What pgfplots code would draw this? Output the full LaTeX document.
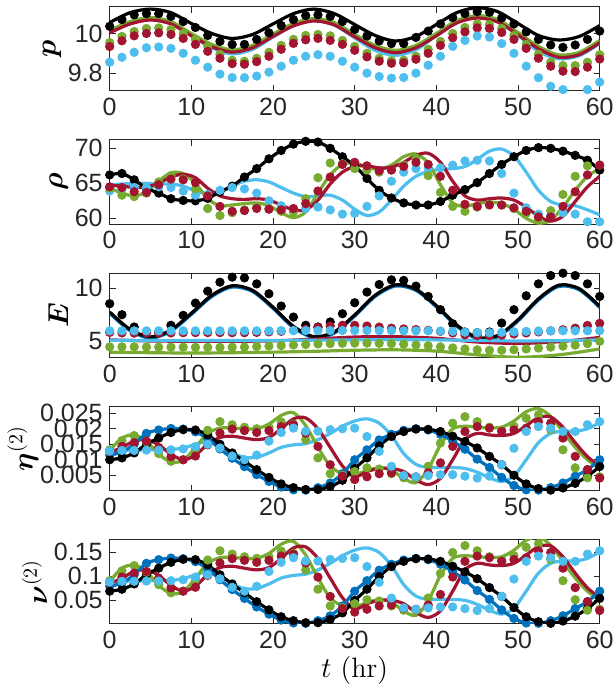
\documentclass[border=0pt]{standalone}
\usepackage{pgfplots}
\pgfplotsset{compat=1.18}
\usepackage{pgfplotstable}
\usepackage{fontspec}
\usepackage{bm}
\newfontfamily\tickfont{Liberation Sans}
\definecolor{mblue}{rgb}{0,0.447,0.741}
\definecolor{mred}{rgb}{0.635,0.078,0.184}
\definecolor{mgreen}{rgb}{0.466,0.674,0.188}
\definecolor{mcyan}{rgb}{0.301,0.745,0.933}
\definecolor{axgray}{rgb}{0.15,0.15,0.15}

% ---------- panel 1 : p ----------
\pgfplotstableread{
t k g r c
0 10.055 10.015 10.003 10.008
2.5 10.105 10.06 10.048 10.052
5 10.123 10.08 10.068 10.072
7.5 10.105 10.06 10.048 10.05
10 10.05 10.0 9.988 9.99
12.5 10.0 9.945 9.933 9.928
15 9.975 9.918 9.906 9.897
17.5 9.995 9.94 9.928 9.92
20 10.048 9.997 9.985 9.982
22.5 10.1 10.05 10.038 10.04
25 10.123 10.075 10.063 10.065
27.5 10.1 10.055 10.043 10.042
30 10.045 9.995 9.983 9.978
32.5 9.99 9.94 9.928 9.915
35 9.962 9.915 9.903 9.89
37.5 9.985 9.94 9.928 9.918
40 10.045 10.0 9.988 9.99
42.5 10.105 10.065 10.053 10.058
45 10.13 10.09 10.078 10.085
47.5 10.11 10.07 10.058 10.062
50 10.05 10.005 9.993 9.99
52.5 9.99 9.935 9.923 9.91
55 9.967 9.892 9.88 9.872
57.5 9.985 9.905 9.893 9.888
60 10.04 9.965 9.953 9.95
}\pline
\pgfplotstableread{
t k g r c
0 10.036 9.954 9.934 9.855
1.5 10.07 9.985 9.963 9.88
3 10.094 10.01 9.988 9.905
4.5 10.10 10.025 10.0 9.928
6 10.10 10.028 10.003 9.932
7.5 10.086 10.02 9.995 9.925
9 10.06 10.0 9.975 9.9
10.5 10.03 9.97 9.945 9.865
12 9.99 9.935 9.91 9.83
13.5 9.96 9.895 9.875 9.795
15 9.945 9.865 9.848 9.778
16.5 9.945 9.86 9.845 9.777
18 9.97 9.875 9.858 9.785
19.5 10.003 9.905 9.885 9.805
21 10.04 9.94 9.92 9.835
22.5 10.07 9.97 9.95 9.865
24 10.09 9.99 9.968 9.885
25.5 10.094 9.995 9.975 9.893
27 10.086 9.988 9.965 9.885
28.5 10.06 9.965 9.945 9.86
30 10.02 9.935 9.915 9.83
31.5 9.987 9.9 9.882 9.8
33 9.962 9.875 9.86 9.783
34.5 9.949 9.863 9.85 9.775
36 9.949 9.865 9.852 9.778
37.5 9.98 9.885 9.87 9.8
39 10.012 9.92 9.9 9.84
40.5 10.048 9.96 9.94 9.885
42 10.08 10.0 9.978 9.935
43.5 10.10 10.03 10.008 9.965
45 10.11 10.048 10.028 9.987
46.5 10.107 10.045 10.025 9.982
48 10.078 10.025 10.005 9.949
49.5 10.048 9.99 9.97 9.9
51 10.008 9.945 9.925 9.835
52.5 9.97 9.895 9.875 9.777
54 9.942 9.855 9.835 9.734
55.5 9.93 9.838 9.81 9.717
57 9.942 9.838 9.808 9.709
58.5 9.97 9.855 9.83 9.717
60 10.012 9.893 9.871 9.755
}\pdots

% ---------- panel 2 : rho ----------
\pgfplotstableread{
t kd gl rl cl gd rd cd
0 66.2 64.3 64.7 64.8 64.3 64.5 63.9
1.5 66.4 63.6 64.6 64.9 63.3 64.4 64.2
3 65.5 63.2 64.4 65.0 63.1 63.8 64.4
4.5 64.3 63.8 64.5 65.0 63.6 63.7 64.4
6 63.6 65.3 65.0 64.9 65.2 64.8 64.5
7.5 62.8 66.5 65.9 64.9 66.1 65.6 64.4
9 62.55 66.4 66.3 64.6 65.6 65.5 63.9
10.5 62.5 65.0 65.8 63.9 64.2 65.1 63.3
12 62.85 62.8 64.3 63.5 61.4 63.2 63.4
13.5 63.8 61.8 63.2 63.8 60.4 61.7 64.0
15 64.6 61.9 62.8 64.6 60.8 61.0 64.4
16.5 65.9 62.1 62.7 65.3 61.2 61.1 64.2
18 67.1 62.2 62.8 65.5 61.6 61.4 63.6
19.5 68.5 61.8 62.6 65.2 61.4 61.3 62.5
21 69.7 60.8 61.9 64.4 61.0 61.2 61.8
22.5 70.6 60.1 61.2 63.6 60.9 61.4 61.3
24 71.0 60.9 61.2 63.1 62.8 62.1 61.4
25.5 70.9 63.6 62.6 63.2 65.8 63.9 61.6
27 70.0 66.2 64.9 63.3 67.9 65.9 61.2
28.5 68.8 67.7 66.6 62.6 67.8 67.7 60.6
30 67.5 67.9 67.4 61.3 67.1 68.0 60.7
31.5 65.7 67.3 67.5 60.4 66.9 67.5 61.7
33 64.0 67.0 67.2 60.9 66.6 66.8 63.2
34.5 62.9 67.6 67.3 62.6 66.9 66.9 65.3
36 62.2 68.8 68.0 64.6 67.6 67.4 66.6
37.5 61.9 69.2 69.0 66.0 68.6 68.0 67.1
39 61.9 67.9 69.3 66.7 66.1 67.7 67.2
40.5 62.4 64.8 68.0 67.0 63.7 66.0 67.2
42 63.3 62.2 65.3 67.1 61.7 64.0 67.6
43.5 64.1 61.7 63.2 67.4 61.0 62.0 68.2
45 65.1 62.1 62.6 68.4 61.6 61.7 68.3
46.5 66.4 62.3 62.8 69.6 62.0 61.9 68.2
48 67.7 62.1 62.9 69.9 61.9 61.9 66.4
49.5 68.8 61.3 62.6 68.9 61.4 61.5 63.6
51 69.7 60.0 61.6 66.6 60.7 61.0 61.5
52.5 70.1 59.3 60.3 64.0 59.9 60.2 60.6
54 70.0 59.7 59.6 62.4 61.1 60.2 60.4
55.5 69.6 61.6 60.3 61.9 63.4 61.7 60.8
57 69.0 64.0 62.4 61.8 66.0 63.8 60.6
58.5 68.3 66.0 64.5 61.2 67.5 66.2 59.5
60 66.9 67.1 66.0 60.5 67.6 67.6 59.5
}\rtab

% ---------- panel 3 : E ----------
\pgfplotstableread{
t k
0 7.76
2.5 6.13
5 5.43
7.5 6.08
10 7.65
12.5 9.33
15 10.22
17.5 9.79
20 8.22
22.5 6.42
25 5.46
27.5 5.9
30 7.49
32.5 9.33
35 10.31
37.5 9.9
40 8.36
42.5 6.54
45 5.38
47.5 5.55
50 7.04
52.5 9.0
55 10.28
57.5 9.95
60 8.3
}\eblack
\pgfplotstableread{
t r c g
0 5.15 5.12 4.0
5 5.05 5.1 3.95
10 5.02 5.1 3.92
15 5.02 5.1 3.95
20 5.06 5.1 4.0
25 5.22 5.12 4.08
30 5.42 5.15 4.18
35 5.45 5.17 4.22
40 5.3 5.15 4.1
45 4.95 5.1 3.75
50 4.82 5.05 3.52
55 4.98 5.08 3.75
60 5.38 5.15 4.3
}\elines
\pgfplotstableread{
t k g r c
0 8.54 4.5 5.85 6.0
1.5 7.51 4.5 5.8 6.0
3 6.36 4.5 5.78 6.0
4.5 5.89 4.48 5.78 6.0
6 5.89 4.47 5.78 6.0
7.5 6.52 4.47 5.8 6.0
9 7.45 4.47 5.82 6.0
10.5 8.6 4.45 5.83 6.0
12 9.72 4.45 5.83 6.0
13.5 10.56 4.45 5.83 6.0
15 11.03 4.46 5.82 6.0
16.5 10.96 4.48 5.82 6.0
18 10.4 4.52 5.85 6.0
19.5 9.47 4.57 5.9 6.0
21 8.32 4.62 5.95 6.02
22.5 7.29 4.67 6.05 6.02
24 6.52 4.72 6.15 6.02
25.5 6.36 4.77 6.3 6.02
27 6.83 4.8 6.45 6.02
28.5 7.6 4.83 6.52 6.03
30 8.63 4.85 6.52 6.03
31.5 9.63 4.85 6.45 6.03
33 10.34 4.83 6.35 6.02
34.5 10.78 4.8 6.25 6.02
36 10.72 4.75 6.18 6.0
37.5 10.19 4.68 6.12 6.0
39 9.22 4.6 6.05 6.0
40.5 7.98 4.5 5.95 5.98
42 6.67 4.4 5.8 5.95
43.5 5.89 4.3 5.62 5.87
45 5.83 4.22 5.55 5.82
46.5 5.89 4.18 5.55 5.82
48 6.73 4.18 5.6 5.85
49.5 7.98 4.22 5.7 5.9
51 9.28 4.3 5.8 5.95
52.5 10.4 4.38 5.9 5.98
54 11.18 4.47 6.0 6.0
55.5 11.4 4.56 6.1 6.0
57 11.18 4.66 6.25 6.0
58.5 10.4 4.8 6.5 6.0
60 9.22 5.02 6.7 6.0
}\edots

% ---------- panel 4 : eta2 ----------
\pgfplotstableread{
t k b g r c gd rd cd
0 0.0100 0.0115 0.0130 0.0122 0.0130 0.0132 0.0127 0.0128
1.5 0.0106 0.0125 0.0170 0.0140 0.0131 0.0162 0.0143 0.0130
3 0.0122 0.0150 0.0180 0.0160 0.0131 0.0178 0.0155 0.0130
4.5 0.0150 0.0185 0.0160 0.0165 0.0132 0.0158 0.0160 0.0131
6 0.0170 0.0196 0.0118 0.0148 0.0132 0.0120 0.0140 0.0131
7.5 0.0188 0.0201 0.0093 0.0118 0.0133 0.0095 0.0110 0.0132
9 0.0197 0.0199 0.0098 0.0100 0.0138 0.0100 0.0100 0.0135
10.5 0.0196 0.0190 0.0140 0.0115 0.0150 0.0135 0.0112 0.0143
12 0.0180 0.0168 0.0185 0.0150 0.0158 0.0195 0.0148 0.0150
13.5 0.0150 0.0135 0.0202 0.0172 0.0145 0.0223 0.0186 0.0138
15 0.0122 0.0105 0.0203 0.0176 0.0122 0.0213 0.0199 0.0112
16.5 0.0095 0.0078 0.0200 0.0170 0.0108 0.0205 0.0194 0.0100
18 0.0068 0.0052 0.0200 0.0165 0.0108 0.0200 0.0188 0.0115
19.5 0.0043 0.0030 0.0215 0.0172 0.0122 0.0205 0.0194 0.0160
21 0.0022 0.0012 0.0243 0.0200 0.0140 0.0222 0.0207 0.0188
22.5 0.0010 0.0003 0.0252 0.0232 0.0148 0.0215 0.0213 0.0202
24 0.0004 0.0002 0.0210 0.0235 0.0152 0.0165 0.0186 0.0192
25.5 0.0004 0.0010 0.0140 0.0200 0.0165 0.0106 0.0143 0.0192
27 0.0014 0.0025 0.0080 0.0140 0.0185 0.0055 0.0084 0.0197
28.5 0.0034 0.0055 0.0055 0.0080 0.0208 0.0050 0.0047 0.0200
30 0.0072 0.0100 0.0052 0.0045 0.0225 0.0062 0.0036 0.0202
31.5 0.0106 0.0132 0.0065 0.0062 0.0232 0.0074 0.0045 0.0175
33 0.0145 0.0164 0.0074 0.0072 0.0218 0.0070 0.0055 0.0127
34.5 0.0175 0.0182 0.0066 0.0072 0.0178 0.0055 0.0058 0.0079
36 0.0191 0.0195 0.0040 0.0062 0.0120 0.0042 0.0048 0.0049
37.5 0.0199 0.0200 0.0026 0.0035 0.0085 0.0041 0.0045 0.0045
39 0.0198 0.0196 0.0070 0.0020 0.0075 0.0079 0.0058 0.0049
40.5 0.0191 0.0182 0.0148 0.0040 0.0075 0.0154 0.0090 0.0052
42 0.0176 0.0160 0.0200 0.0100 0.0075 0.0218 0.0143 0.0052
43.5 0.0159 0.0134 0.0208 0.0165 0.0072 0.0239 0.0191 0.0047
45 0.0138 0.0102 0.0205 0.0185 0.0060 0.0223 0.0207 0.0041
46.5 0.0111 0.0075 0.0203 0.0180 0.0042 0.0205 0.0202 0.0047
48 0.0084 0.0043 0.0205 0.0178 0.0030 0.0195 0.0191 0.0084
49.5 0.0050 0.0017 0.0225 0.0185 0.0048 0.0208 0.0196 0.0137
51 0.0022 0.0003 0.0255 0.0210 0.0100 0.0234 0.0202 0.0191
52.5 0.0007 0.0002 0.0265 0.0236 0.0155 0.0245 0.0223 0.0207
54 0.0002 0.0010 0.0240 0.0238 0.0185 0.0197 0.0218 0.0202
55.5 0.0009 0.0025 0.0190 0.0205 0.0192 0.0132 0.0170 0.0191
57 0.0024 0.0047 0.0140 0.0155 0.0192 0.0074 0.0111 0.0191
58.5 0.0047 0.0068 0.0100 0.0110 0.0200 0.0042 0.0068 0.0213
60 0.0078 0.0100 0.0072 0.0080 0.0220 0.0045 0.0041 0.0223
}\etatab

% ---------- panel 5 : nu2 ----------
\pgfplotstableread{
t k b g r c gd rd cd
0 0.0685 0.0788 0.0891 0.0836 0.0891 0.0904 0.0870 0.0877
1.5 0.0726 0.0856 0.1165 0.0959 0.0897 0.1110 0.0980 0.0891
3 0.0836 0.1028 0.1233 0.1096 0.0897 0.1219 0.1062 0.0891
4.5 0.1028 0.1267 0.1096 0.1130 0.0904 0.1082 0.1096 0.0897
6 0.1165 0.1343 0.0808 0.1014 0.0904 0.0822 0.0959 0.0897
7.5 0.1288 0.1377 0.0637 0.0808 0.0911 0.0651 0.0754 0.0904
9 0.1349 0.1363 0.0671 0.0685 0.0945 0.0685 0.0685 0.0925
10.5 0.1343 0.1302 0.0959 0.0788 0.1028 0.0925 0.0767 0.0980
12 0.1233 0.1151 0.1267 0.1028 0.1082 0.1336 0.1014 0.1028
13.5 0.1028 0.0925 0.1384 0.1178 0.0993 0.1528 0.1274 0.0945
15 0.0836 0.0719 0.1391 0.1206 0.0836 0.1459 0.1363 0.0767
16.5 0.0651 0.0534 0.1370 0.1165 0.0740 0.1404 0.1329 0.0685
18 0.0466 0.0356 0.1370 0.1130 0.0740 0.1370 0.1288 0.0788
19.5 0.0295 0.0206 0.1473 0.1178 0.0836 0.1404 0.1329 0.1096
21 0.0151 0.0082 0.1665 0.1370 0.0959 0.1521 0.1418 0.1288
22.5 0.0069 0.0021 0.1726 0.1589 0.1014 0.1473 0.1459 0.1384
24 0.0027 0.0014 0.1439 0.1610 0.1041 0.1130 0.1274 0.1315
25.5 0.0027 0.0069 0.0959 0.1370 0.1130 0.0726 0.0980 0.1315
27 0.0096 0.0171 0.0548 0.0959 0.1267 0.0377 0.0575 0.1349
28.5 0.0233 0.0377 0.0377 0.0548 0.1425 0.0343 0.0322 0.1370
30 0.0493 0.0685 0.0356 0.0308 0.1541 0.0425 0.0247 0.1384
31.5 0.0726 0.0904 0.0445 0.0425 0.1589 0.0507 0.0308 0.1199
33 0.0993 0.1123 0.0507 0.0493 0.1493 0.0480 0.0377 0.0870
34.5 0.1199 0.1247 0.0452 0.0493 0.1219 0.0377 0.0397 0.0541
36 0.1308 0.1336 0.0274 0.0425 0.0822 0.0288 0.0329 0.0336
37.5 0.1363 0.1370 0.0178 0.0240 0.0582 0.0281 0.0308 0.0308
39 0.1356 0.1343 0.0480 0.0137 0.0514 0.0541 0.0397 0.0336
40.5 0.1308 0.1247 0.1014 0.0274 0.0514 0.1055 0.0617 0.0356
42 0.1206 0.1096 0.1370 0.0685 0.0514 0.1493 0.0980 0.0356
43.5 0.1089 0.0918 0.1425 0.1130 0.0493 0.1637 0.1308 0.0322
45 0.0945 0.0699 0.1404 0.1267 0.0411 0.1528 0.1418 0.0281
46.5 0.0760 0.0514 0.1391 0.1233 0.0288 0.1404 0.1384 0.0322
48 0.0575 0.0295 0.1404 0.1219 0.0206 0.1336 0.1308 0.0575
49.5 0.0343 0.0116 0.1541 0.1267 0.0329 0.1425 0.1343 0.0938
51 0.0151 0.0021 0.1747 0.1439 0.0685 0.1603 0.1384 0.1308
52.5 0.0048 0.0014 0.1815 0.1617 0.1062 0.1678 0.1528 0.1418
54 0.0014 0.0069 0.1644 0.1630 0.1267 0.1349 0.1493 0.1384
55.5 0.0062 0.0171 0.1302 0.1404 0.1315 0.0904 0.1165 0.1308
57 0.0164 0.0322 0.0959 0.1062 0.1315 0.0507 0.0760 0.1308
58.5 0.0322 0.0466 0.0685 0.0754 0.1370 0.0288 0.0466 0.1459
60 0.0534 0.0685 0.0493 0.0548 0.1507 0.0308 0.0281 0.1528
}\nutab

\pgfplotsset{
  panel/.style={
    scale only axis, width=245pt, height=42.15pt,
    anchor=north west,
    xmin=0, xmax=60, xtick={0,10,20,30,40,50,60},
    scaled y ticks=false,
    axis line style={draw=axgray, line width=0.5pt},
    every tick/.style={draw=axgray, line width=0.5pt},
    major tick length=3pt,
    tick align=inside,
    /pgf/number format/assume math mode=true,
    ticklabel style={font=\tickfont\fontsize{12.5}{15}\selectfont, text=axgray},
    ylabel style={font=\fontsize{14}{16}\selectfont},
    ylabel shift=-3.5pt,
    xlabel style={font=\fontsize{14}{16}\selectfont, yshift=3pt},
  },
  ln/.style={line width=1.6pt, smooth, no markers, color=#1},
  dt/.style={only marks, mark=*, mark size=2.1pt, color=#1, mark options={solid, draw=#1, fill=#1}},
}

\begin{document}
\begin{tikzpicture}
\useasboundingbox (0,0) rectangle (307.5pt,342pt);

% panel 1
\begin{axis}[panel, at={(54.85pt,338.65pt)},
  ymin=9.71, ymax=10.135, ytick={9.8,10}, yticklabels={9.8,10},
  ylabel={$\bm{p}$}]
\addplot[ln=mcyan] table[x=t,y=c]{\pline};
\addplot[ln=mgreen] table[x=t,y=g]{\pline};
\addplot[ln=mred] table[x=t,y=r]{\pline};
\addplot[ln=black] table[x=t,y=k]{\pline};
\addplot[dt=black] table[x=t,y=k]{\pdots};
\addplot[dt=mgreen] table[x=t,y=g]{\pdots};
\addplot[dt=mred] table[x=t,y=r]{\pdots};
\addplot[dt=mcyan] table[x=t,y=c]{\pdots};
\end{axis}

% panel 2
\begin{axis}[panel, at={(54.85pt,272.025pt)},
  ymin=59.15, ymax=71.2, ytick={60,65,70}, yticklabels={60,65,70},
  ylabel={$\bm{\rho}$}]
\addplot[ln=mcyan] table[x=t,y=cl]{\rtab};
\addplot[ln=mgreen] table[x=t,y=gl]{\rtab};
\addplot[ln=mred] table[x=t,y=rl]{\rtab};
\addplot[ln=black] table[x=t,y=kd]{\rtab};
\addplot[dt=black] table[x=t,y=kd]{\rtab};
\addplot[dt=mcyan] table[x=t,y=cd]{\rtab};
\addplot[dt=mgreen] table[x=t,y=gd]{\rtab};
\addplot[dt=mred] table[x=t,y=rd]{\rtab};
\end{axis}

% panel 3
\begin{axis}[panel, at={(54.85pt,205.4pt)},
  ymin=3.5, ymax=11.4, ytick={5,10}, yticklabels={5,10},
  ylabel={$\bm{E}$}]
\addplot[ln=mblue, yshift=-0.6pt] table[x=t,y=k]{\eblack};
\addplot[ln=black] table[x=t,y=k]{\eblack};
\addplot[ln=mred] table[x=t,y=r]{\elines};
\addplot[ln=mcyan] table[x=t,y=c]{\elines};
\addplot[ln=mgreen] table[x=t,y=g]{\elines};
\addplot[dt=black] table[x=t,y=k]{\edots};
\addplot[dt=mgreen] table[x=t,y=g]{\edots};
\addplot[dt=mred] table[x=t,y=r]{\edots};
\addplot[dt=mcyan] table[x=t,y=c]{\edots};
\end{axis}

% panel 4
\begin{axis}[panel, at={(54.85pt,138.775pt)},
  ymin=0, ymax=0.0272, ytick={0.005,0.01,0.015,0.02,0.025},
  yticklabels={0.005,0.01,0.015,0.02,0.025},
  ylabel shift=-6pt,
  ylabel={$\bm{\eta}^{(2)}$}]
\addplot[ln=mcyan] table[x=t,y=c]{\etatab};
\addplot[ln=mgreen] table[x=t,y=g]{\etatab};
\addplot[ln=mred] table[x=t,y=r]{\etatab};
\addplot[ln=mblue] table[x=t,y=b]{\etatab};
\addplot[ln=black] table[x=t,y=k]{\etatab};
\addplot[dt=mblue] table[x=t,y=b]{\etatab};
\addplot[dt=black] table[x=t,y=k]{\etatab};
\addplot[dt=mgreen] table[x=t,y=gd]{\etatab};
\addplot[dt=mred] table[x=t,y=rd]{\etatab};
\addplot[dt=mcyan] table[x=t,y=cd]{\etatab};
\end{axis}

% panel 5
\begin{axis}[panel, at={(54.85pt,72.15pt)},
  ymin=0, ymax=0.176, ytick={0.05,0.1,0.15},
  yticklabels={0.05,0.1,0.15},
  ylabel={$\bm{\nu}^{(2)}$},
  xlabel={$t$ (hr)}]
\addplot[ln=mcyan] table[x=t,y=c]{\nutab};
\addplot[ln=mgreen] table[x=t,y=g]{\nutab};
\addplot[ln=mred] table[x=t,y=r]{\nutab};
\addplot[ln=mblue] table[x=t,y=b]{\nutab};
\addplot[ln=black] table[x=t,y=k]{\nutab};
\addplot[dt=mblue] table[x=t,y=b]{\nutab};
\addplot[dt=black] table[x=t,y=k]{\nutab};
\addplot[dt=mgreen] table[x=t,y=gd]{\nutab};
\addplot[dt=mred] table[x=t,y=rd]{\nutab};
\addplot[dt=mcyan] table[x=t,y=cd]{\nutab};
\end{axis}
\end{tikzpicture}
\end{document}
